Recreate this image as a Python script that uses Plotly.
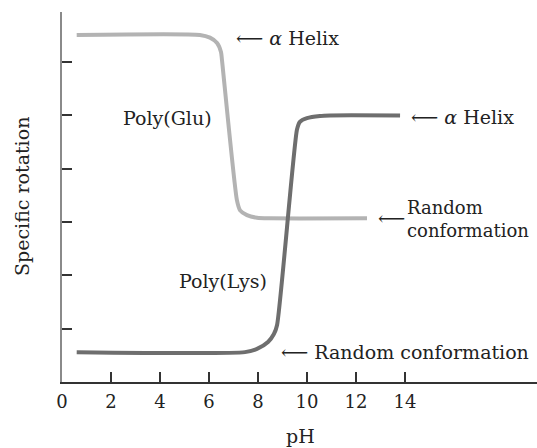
import plotly.graph_objects as go

# Poly(Glu) curve (pH, specific rotation, arbitrary units)
glu_ph = [0.6, 5.63, 6.04, 6.33, 6.49, 6.53, 7.14, 7.27, 7.55, 7.96, 8.49, 12.45]
glu_rot = [6.51, 6.51, 6.46, 6.36, 6.19, 6.04, 3.41, 3.22, 3.13, 3.08, 3.07, 3.07]

# Poly(Lys) curve
lys_ph = [0.6, 7.47, 7.96, 8.41, 8.65, 8.78, 9.59, 9.71, 10.0, 10.53, 10.94, 13.8]
lys_rot = [0.56, 0.56, 0.62, 0.75, 0.9, 1.07, 4.73, 4.88, 4.95, 4.99, 5.0, 5.0]

x_ticks = [0, 2, 4, 6, 8, 10, 12, 14]
y_ticks = [1, 2, 3, 4, 5, 6]

FONT = "DejaVu Serif"
TXT = "#222222"
ARROW = "⟵"

W, H = 537, 448
L, T, B = 62, 12, 66
PW, PH_ = W - L, H - T - B

fig = go.Figure()
fig.add_trace(go.Scatter(x=glu_ph, y=glu_rot, mode="lines",
                         line=dict(color="#b3b3b3", width=4, shape="spline", smoothing=0.6),
                         hoverinfo="skip", showlegend=False))
fig.add_trace(go.Scatter(x=lys_ph, y=lys_rot, mode="lines",
                         line=dict(color="#6e6e6e", width=4, shape="spline", smoothing=0.6),
                         hoverinfo="skip", showlegend=False))

ann_font = dict(family=FONT, size=19, color=TXT)
small_font = dict(family=FONT, size=18, color=TXT)
anns = [
    (7.06, 6.45, ARROW + " <i>α</i> Helix", ann_font),
    (2.45, 4.95, "Poly(Glu)", ann_font),
    (14.2, 4.97, ARROW + " <i>α</i> Helix", ann_font),
    (12.86, 3.08, ARROW, ann_font),
    (14.06, 3.06, "Random<br>conformation", small_font),
    (4.73, 1.89, "Poly(Lys)", ann_font),
    (8.9, 0.56, ARROW + " Random conformation", ann_font),
]
ann_list = []
for x, y, t, f in anns:
    ann_list.append(dict(x=x, y=y, text=t, showarrow=False, xanchor="left",
                         yanchor="middle", align="left", font=f, borderpad=0,
                         xref="x", yref="y"))
# axis titles
ann_list.append(dict(xref="paper", yref="paper", x=(22 - L) / PW, y=0.5,
                     text="Specific rotation", textangle=-90, showarrow=False,
                     xanchor="center", yanchor="middle", font=ann_font))
ann_list.append(dict(xref="paper", yref="paper", x=(300 - L) / PW, y=-(436 - (H - B)) / PH_,
                     text="pH", showarrow=False, xanchor="center", yanchor="middle",
                     font=ann_font, borderpad=0))

fig.update_layout(
    width=W, height=H,
    margin=dict(l=L, r=0, t=T, b=B, autoexpand=False),
    plot_bgcolor="white", paper_bgcolor="white",
    font=dict(family=FONT, size=18, color=TXT),
    annotations=ann_list,
    xaxis=dict(range=[0, 19.39], tickvals=x_ticks, ticktext=[str(v) for v in x_ticks],
               ticks="inside", ticklen=10, tickwidth=1.5, tickcolor="#333",
               showline=True, linecolor="#333", linewidth=1.5, automargin=False,
               showgrid=False, zeroline=False, ticklabelstandoff=3,
               tickfont=dict(family=FONT, size=18, color=TXT)),
    yaxis=dict(range=[0, 6.94], tickvals=y_ticks, showticklabels=False,
               ticks="inside", ticklen=10, tickwidth=1.5, tickcolor="#333",
               showline=True, linecolor="#8a8a8a", linewidth=2, automargin=False,
               showgrid=False, zeroline=False),
)

fig.write_html("out.html", config={"displayModeBar": False},
               post_script="document.body.style.margin='0';document.body.style.overflow='hidden';")
